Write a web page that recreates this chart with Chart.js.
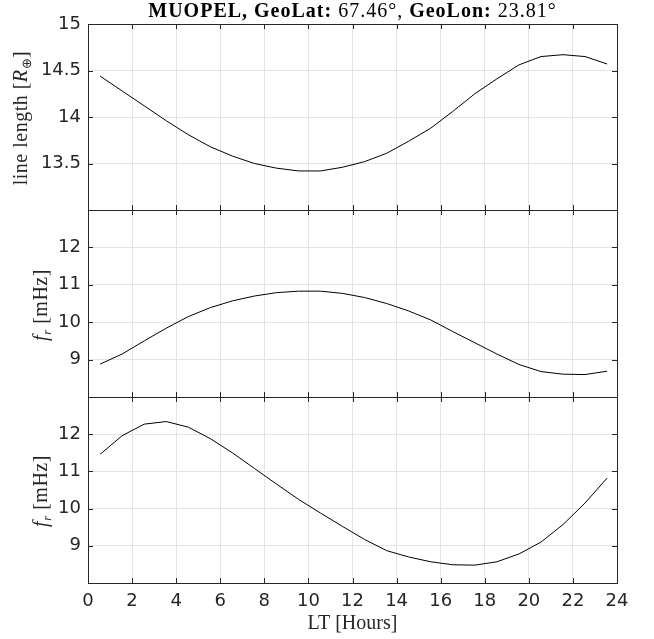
<!DOCTYPE html>
<html>
<head>
<meta charset="utf-8">
<script src="https://cdn.jsdelivr.net/npm/chart.js@4.4.1/dist/chart.umd.min.js"></script>
<style>
    body { margin: 0; background: #fff; }
    #wrap { position: relative; width: 654px; height: 639px; overflow: hidden; }
    #wrap canvas { position: absolute; left: 0; top: 0; }
    .lbl { position: absolute; font-family: 'Liberation Serif', serif; font-size: 20px; letter-spacing: 0.5px;
           color: #262626; white-space: nowrap; line-height: 24px; }
    .ylab { transform: translate(-50%, -50%) rotate(-90deg); }
    .lbl sub { font-size: 13px; vertical-align: -4px; }
    #title { left: 88px; width: 529px; top: -2px; text-align: center; color: #000; letter-spacing: 1px; }
</style>
</head>
<body>
<div id="wrap">
    <canvas id="c1" width="654" height="639"></canvas>
    <canvas id="c2" width="654" height="639"></canvas>
    <canvas id="c3" width="654" height="639"></canvas>
    <div id="title" class="lbl"><b>MUOPEL, GeoLat:</b> 67.46&deg;, <b>GeoLon:</b> 23.81&deg;</div>
    <div class="lbl ylab" style="left:23px; top:118px">line length [<i>R</i><sub>&oplus;</sub>]</div>
    <div class="lbl ylab" style="left:43px; top:305px"><i>f</i><sub><i>r</i></sub> [mHz]</div>
    <div class="lbl ylab" style="left:43px; top:491px"><i>f</i><sub><i>r</i></sub> [mHz]</div>
</div>
<script>
// MUOPEL field line length and resonance frequencies vs local time

const LT = [0.55, 1.55, 2.55, 3.55, 4.55, 5.55, 6.55, 7.55, 8.55, 9.55, 10.55, 11.55,
            12.55, 13.55, 14.55, 15.55, 16.55, 17.55, 18.55, 19.55, 20.55, 21.55, 22.55, 23.55];

const lineLength = [14.44, 14.28, 14.12, 13.96, 13.81, 13.68, 13.58, 13.50, 13.45, 13.42, 13.42, 13.46,
                    13.52, 13.61, 13.74, 13.88, 14.06, 14.25, 14.41, 14.56, 14.65, 14.67, 14.65, 14.57];

const frMiddle = [8.88, 9.15, 9.50, 9.84, 10.15, 10.39, 10.57, 10.70, 10.79, 10.83, 10.83, 10.77,
                  10.66, 10.50, 10.30, 10.06, 9.75, 9.45, 9.15, 8.87, 8.68, 8.61, 8.60, 8.69];

const frBottom = [11.46, 11.96, 12.27, 12.34, 12.19, 11.88, 11.50, 11.08, 10.66, 10.25, 9.88, 9.52,
                  9.17, 8.87, 8.70, 8.57, 8.49, 8.48, 8.57, 8.78, 9.10, 9.57, 10.15, 10.82];

const xTicks = [0, 2, 4, 6, 8, 10, 12, 14, 16, 18, 20, 22, 24];
const lengthTicks = [13.5, 14, 14.5, 15];
const frTicks = [9, 10, 11, 12];

const AXIS_COLOR = '#262626';
const GRID_COLOR = '#e4e4e4';
const TICK_LEN = 5;

// box round the plot area plus inward ticks, matlab style
const framePlugin = {
    id: 'frame',
    afterDatasetsDraw(chart) {
        const { ctx, chartArea: a, scales } = chart;
        ctx.save();
        ctx.strokeStyle = AXIS_COLOR;
        ctx.lineWidth = 1;
        ctx.beginPath();
        scales.x.ticks.forEach(t => {
            const px = Math.round(scales.x.getPixelForValue(t.value)) + 0.5;
            ctx.moveTo(px, a.top);
            ctx.lineTo(px, a.top + TICK_LEN);
            ctx.moveTo(px, a.bottom);
            ctx.lineTo(px, a.bottom - TICK_LEN);
        });
        scales.y.ticks.forEach(t => {
            const py = Math.round(scales.y.getPixelForValue(t.value)) + 0.5;
            ctx.moveTo(a.left, py);
            ctx.lineTo(a.left + TICK_LEN, py);
            ctx.moveTo(a.right, py);
            ctx.lineTo(a.right - TICK_LEN, py);
        });
        ctx.stroke();
        ctx.strokeRect(Math.round(a.left) + 0.5, Math.round(a.top) + 0.5,
                       Math.round(a.right - a.left), Math.round(a.bottom - a.top));
        ctx.restore();
    }
};

function makePanel(id, values, yMin, yMax, yTicks, pad, bottomAxis) {
    const ctx = document.getElementById(id).getContext('2d');
    return new Chart(ctx, {
        type: 'line',
        data: {
            datasets: [{
                data: LT.map((t, i) => ({ x: t, y: values[i] })),
                borderColor: '#000',
                borderWidth: 1,
                pointRadius: 0,
                tension: 0,
                fill: false
            }]
        },
        options: {
            responsive: false,
            animation: false,
            events: [],
            layout: { padding: pad },
            plugins: { legend: { display: false }, tooltip: { enabled: false } },
            scales: {
                x: {
                    type: 'linear',
                    min: 0,
                    max: 24,
                    afterBuildTicks: axis => { axis.ticks = xTicks.map(v => ({ value: v })); },
                    afterFit: axis => { axis.height = bottomAxis ? 56 : 0; },
                    grid: { color: GRID_COLOR, drawTicks: false },
                    border: { display: false },
                    ticks: {
                        display: bottomAxis,
                        padding: 8,
                        color: AXIS_COLOR,
                        font: { family: 'DejaVu Sans', size: 18 },
                        callback: v => String(v)
                    },
                    title: {
                        display: bottomAxis,
                        text: 'LT [Hours]',
                        color: AXIS_COLOR,
                        font: { family: 'Liberation Serif', size: 20 },
                        padding: { top: 0, bottom: 3 }
                    }
                },
                y: {
                    min: yMin,
                    max: yMax,
                    afterBuildTicks: axis => { axis.ticks = yTicks.map(v => ({ value: v })); },
                    afterFit: axis => { axis.width = 88; },
                    grid: { color: GRID_COLOR, drawTicks: false },
                    border: { display: false },
                    ticks: {
                        padding: 7,
                        color: AXIS_COLOR,
                        font: { family: 'DejaVu Sans', size: 18 },
                        callback: v => String(v)
                    }
                }
            }
        },
        plugins: [framePlugin]
    });
}

makePanel('c1', lineLength, 13, 15, lengthTicks, { top: 24, bottom: 429, left: 0, right: 37 }, false);
makePanel('c2', frMiddle, 8, 13, frTicks, { top: 210, bottom: 242, left: 0, right: 37 }, false);
makePanel('c3', frBottom, 8, 13, frTicks, { top: 397, bottom: 0, left: 0, right: 37 }, true);
</script>
</body>
</html>
